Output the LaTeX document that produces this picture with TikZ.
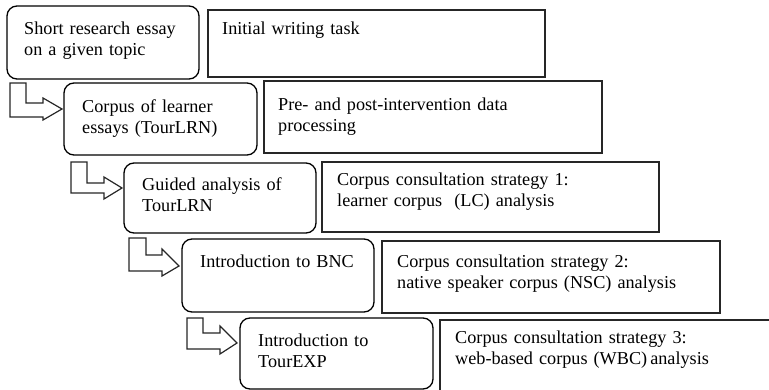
\documentclass[tikz,border=0pt]{standalone}
\usepackage{fontspec}
\setmainfont{Liberation Serif}
\begin{document}
\begin{tikzpicture}[x=1pt,y=-1pt,
  rbox/.style={draw=black,line width=1.3pt,rounded corners=10pt},
  sbox/.style={draw=black!85,line width=1.3pt},
  blockarrow/.style={draw=black!85,line width=1.2pt,fill=white,line join=miter},
  txt/.style={anchor=base west,inner sep=0pt,text width=340pt,align=left,
    font=\fontsize{18.2}{21}\selectfont}]
\useasboundingbox (0,0) rectangle (769,390);
\clip (0,0) rectangle (769,390);
% rounded step boxes
\draw[rbox] (7,6) rectangle (199,79) node[pos=0.5] (b1) {};
\draw[rbox] (64,83) rectangle (257,155) node[pos=0.5] (b2) {};
\draw[rbox] (124,163) rectangle (316,233) node[pos=0.5] (b3) {};
\draw[rbox] (182,239) rectangle (374,312) node[pos=0.5] (b4) {};
\draw[rbox] (240,318) rectangle (433,389) node[pos=0.5] (b5) {};
% description boxes
\draw[sbox] (208,10) rectangle (545,77) node[pos=0.5] (r1) {};
\draw[sbox] (264,81) rectangle (602,153) node[pos=0.5] (r2) {};
\draw[sbox] (322,162) rectangle (659,232) node[pos=0.5] (r3) {};
\draw[sbox] (382,241) rectangle (720,313) node[pos=0.5] (r4) {};
\draw[sbox] (440,320) rectangle (800,420) node[pos=0.5] (r5) {};
% elbow block arrows
\draw[blockarrow] (10,83) -- (26,83) -- (26,103) -- (43,103) -- (43,98) -- (62,109) -- (43,120) -- (43,117) -- (10,117) -- cycle;
\draw[blockarrow] (71,162) -- (87,162) -- (87,183) -- (104,183) -- (104,177) -- (122,188) -- (104,199) -- (104,193) -- (71,193) -- cycle;
\draw[blockarrow] (129,238) -- (146,238) -- (146,255) -- (162,255) -- (162,249) -- (179,266) -- (162,276) -- (162,271) -- (129,271) -- cycle;
\draw[blockarrow] (187,318) -- (203,318) -- (203,333) -- (220,333) -- (220,326) -- (237,343) -- (220,354) -- (220,349) -- (187,349) -- cycle;
% texts
\node[txt] (t1) at (24,35) {Short research essay\\on a given topic};
\node[txt] (u1) at (222,35) {Initial writing task};
\node[txt] (t2) at (82,113) {Corpus of learner\\essays (TourLRN)};
\node[txt] (u2) at (278,111) {Pre- and post-intervention data\\processing};
\node[txt] (t3) at (142,191) {Guided analysis of\\TourLRN};
\node[txt] (u3) at (337,186) {Corpus consultation strategy 1:\\learner corpus\ \ (LC) analysis};
\node[txt] (t4) at (200,268) {Introduction to BNC};
\node[txt] (u4) at (397,268) {Corpus consultation strategy 2:\\native speaker corpus (NSC) analysis};
\node[txt] (t5) at (258,346) {Introduction to\\TourEXP};
\node[txt] (u5) at (455,343) {Corpus consultation strategy 3:\\web-based corpus (WBC)\,analysis};
\end{tikzpicture}
\end{document}
